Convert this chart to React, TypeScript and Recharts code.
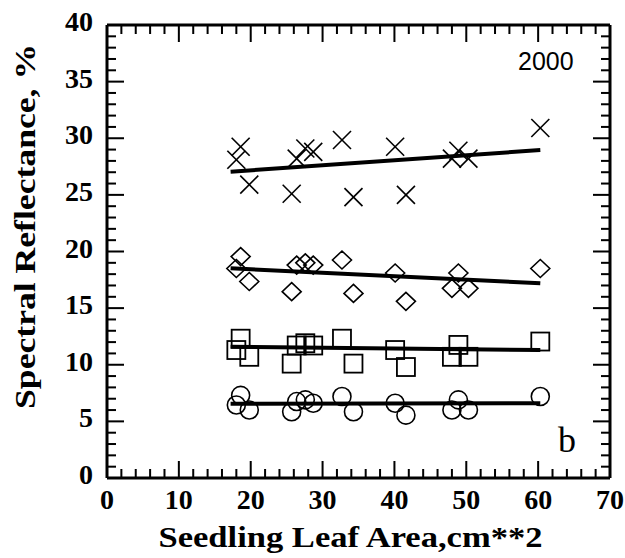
import React from 'react';
import { ScatterChart, Scatter, XAxis, YAxis, Label, ReferenceLine } from 'recharts';

// ---- data ----
const leafArea = [18.0, 18.6, 19.8, 25.7, 26.4, 27.6, 28.7, 32.7, 34.3, 40.1, 41.6, 48.0, 48.9, 50.3, 60.3];
const crossValues = [28.1, 29.25, 25.9, 25.1, 28.2, 29.1, 28.8, 29.85, 24.8, 29.25, 25.0, 28.2, 28.9, 28.2, 30.9];
const diamondValues = [18.5, 19.55, 17.35, 16.45, 18.8, 19.0, 18.8, 19.25, 16.3, 18.1, 15.6, 16.75, 18.1, 16.75, 18.5];
const squareValues = [11.3, 12.3, 10.7, 10.1, 11.7, 11.9, 11.7, 12.3, 10.1, 11.3, 9.8, 10.7, 11.75, 10.7, 12.05];
const circleValues = [6.45, 7.3, 6.0, 5.85, 6.75, 6.9, 6.6, 7.2, 5.85, 6.6, 5.55, 6.0, 6.9, 6.0, 7.2];

const fitLeafArea = [17.2, 60.3];
const crossFit = [27.05, 28.96];
const diamondFit = [18.52, 17.19];
const squareFit = [11.6, 11.3];
const circleFit = [6.55, 6.6];

const xMajorTicks = [0, 10, 20, 30, 40, 50, 60, 70];
const yMajorTicks = [0, 5, 10, 15, 20, 25, 30, 35, 40];
const xAllTicks = Array.from({ length: 36 }, (_, i) => i * 2);
const yAllTicks = Array.from({ length: 41 }, (_, i) => i);

const xTitle = 'Seedling Leaf Area,cm**2';
const yTitle = 'Spectral Reflectance, %';
const yearLabel = '2000';
const panelLabel = 'b';

const X_MIN = 0;
const X_MAX = 70;
const Y_MIN = 0;
const Y_MAX = 40;

// layout
const W = 625;
const H = 558;
const M_TOP = 25;
const M_RIGHT = 15;
const X_AXIS_H = 80;
const Y_AXIS_W = 107;
const PLOT_W = W - Y_AXIS_W - M_RIGHT;
const PLOT_H = H - M_TOP - X_AXIS_H;

const MAJOR = 17;
const MINOR = 9;

const toPoints = (xs: number[], ys: number[]) => xs.map((x, i) => ({ x, y: ys[i] }));

const crosses = toPoints(leafArea, crossValues);
const diamonds = toPoints(leafArea, diamondValues);
const squares = toPoints(leafArea, squareValues);
const circles = toPoints(leafArea, circleValues);

const crossLine = toPoints(fitLeafArea, crossFit);
const diamondLine = toPoints(fitLeafArea, diamondFit);
const squareLine = toPoints(fitLeafArea, squareFit);
const circleLine = toPoints(fitLeafArea, circleFit);

const SERIF = '"Liberation Serif", "DejaVu Serif", serif';
const SANS = '"Liberation Sans", Arial, sans-serif';

const CrossShape = (p: any) => {
  const { cx, cy } = p;
  const s = 9;
  return (
    <g stroke="#000" strokeWidth={1.6} fill="none">
      <line x1={cx - s} y1={cy - s} x2={cx + s} y2={cy + s} />
      <line x1={cx - s} y1={cy + s} x2={cx + s} y2={cy - s} />
    </g>
  );
};

const DiamondShape = (p: any) => {
  const { cx, cy } = p;
  const w = 9.5;
  const h = 9;
  return (
    <path
      d={`M${cx},${cy - h} L${cx + w},${cy} L${cx},${cy + h} L${cx - w},${cy} Z`}
      stroke="#000"
      strokeWidth={1.6}
      fill="none"
    />
  );
};

const SquareShape = (p: any) => {
  const { cx, cy } = p;
  const s = 9;
  return <rect x={cx - s} y={cy - s} width={2 * s} height={2 * s} stroke="#000" strokeWidth={1.8} fill="none" />;
};

const CircleShape = (p: any) => {
  const { cx, cy } = p;
  return <circle cx={cx} cy={cy} r={9} stroke="#000" strokeWidth={1.6} fill="none" />;
};

const NoShape = () => <g />;

// bottom axis tick: inward tick mark at bottom and mirrored one at top, plus label
const BottomTick = (p: any) => {
  const { x, y, payload } = p;
  const major = xMajorTicks.includes(payload.value);
  const len = major ? MAJOR : MINOR;
  const topY = y - PLOT_H;
  return (
    <g>
      <rect x={x - 1} y={y - len} width={2} height={len} fill="#000" />
      <rect x={x - 1} y={topY} width={2} height={len} fill="#000" />
      {major && (
        <text x={x} y={y + 31} textAnchor="middle" fontFamily={SERIF} fontWeight="bold" fontSize={28} fill="#000">
          {payload.value}
        </text>
      )}
    </g>
  );
};

// left axis tick: inward tick mark at left and mirrored one at right, plus label
const LeftTick = (p: any) => {
  const { x, y, payload } = p;
  const major = yMajorTicks.includes(payload.value);
  const len = major ? MAJOR : MINOR;
  const rightX = x + PLOT_W;
  return (
    <g>
      <rect x={x} y={y - 1} width={len} height={2} fill="#000" />
      <rect x={rightX - len} y={y - 1} width={len} height={2} fill="#000" />
      {major && (
        <text x={x - 14} y={y + 6} textAnchor="end" fontFamily={SERIF} fontWeight="bold" fontSize={28} fill="#000">
          {payload.value}
        </text>
      )}
    </g>
  );
};

const XTitle = (p: any) => {
  const vb = p.viewBox || { x: 107, y: 478, width: 503, height: 80 };
  const cx = vb.x + vb.width / 2 - 8;
  return (
    <text
      x={cx}
      y={vb.y + 69}
      textAnchor="middle"
      fontFamily={SERIF}
      fontWeight="bold"
      fontSize={30}
      textLength={384}
      lengthAdjust="spacingAndGlyphs"
      fill="#000"
    >
      {xTitle}
    </text>
  );
};

const YTitle = (p: any) => {
  const vb = p.viewBox || { x: 0, y: 25, width: 107, height: 453 };
  const cy = vb.y + vb.height / 2 - 25;
  const bx = 35;
  return (
    <text
      x={bx}
      y={cy}
      transform={`rotate(-90, ${bx}, ${cy})`}
      textAnchor="middle"
      fontFamily={SERIF}
      fontWeight="bold"
      fontSize={30}
      textLength={365}
      lengthAdjust="spacingAndGlyphs"
      fill="#000"
    >
      {yTitle}
    </text>
  );
};

const CornerTexts = (p: any) => {
  const vb = p.viewBox || { x: 107, y: 478, width: 503, height: 80 };
  const right = vb.x + vb.width;
  return (
    <g>
      <text x={right - 92} y={vb.y - 408} fontFamily={SANS} fontSize={25} fill="#000">
        {yearLabel}
      </text>
      <text x={right - 52} y={vb.y - 26} fontFamily={SERIF} fontSize={36} fill="#000">
        {panelLabel}
      </text>
    </g>
  );
};

export default function App() {
  return (
    <div style={{ position: 'absolute', left: 0, top: 0 }}>
      <ScatterChart width={W} height={H} margin={{ top: M_TOP, right: M_RIGHT, bottom: 0, left: 0 }}>
        <XAxis
          type="number"
          dataKey="x"
          domain={[X_MIN, X_MAX]}
          ticks={xAllTicks}
          interval={0}
          height={X_AXIS_H}
          tickSize={0}
          tickMargin={0}
          tickLine={false}
          stroke="#000"
          tick={BottomTick}
        >
          <Label content={XTitle} />
          <Label content={CornerTexts} />
        </XAxis>
        <YAxis
          type="number"
          dataKey="y"
          domain={[Y_MIN, Y_MAX]}
          ticks={yAllTicks}
          interval={0}
          width={Y_AXIS_W}
          tickSize={0}
          tickMargin={0}
          tickLine={false}
          stroke="#000"
          tick={LeftTick}
        >
          <Label content={YTitle} />
        </YAxis>

        <ReferenceLine y={Y_MIN} stroke="#000" strokeWidth={3} />
        <ReferenceLine y={Y_MAX} stroke="#000" strokeWidth={3} />
        <ReferenceLine x={X_MIN} stroke="#000" strokeWidth={3} />
        <ReferenceLine x={X_MAX} stroke="#000" strokeWidth={3} />

        <Scatter data={crosses} shape={CrossShape} isAnimationActive={false} />
        <Scatter data={diamonds} shape={DiamondShape} isAnimationActive={false} />
        <Scatter data={squares} shape={SquareShape} isAnimationActive={false} />
        <Scatter data={circles} shape={CircleShape} isAnimationActive={false} />

        <Scatter data={crossLine} line={{ stroke: '#000', strokeWidth: 4 }} shape={NoShape} isAnimationActive={false} />
        <Scatter data={diamondLine} line={{ stroke: '#000', strokeWidth: 4 }} shape={NoShape} isAnimationActive={false} />
        <Scatter data={squareLine} line={{ stroke: '#000', strokeWidth: 4 }} shape={NoShape} isAnimationActive={false} />
        <Scatter data={circleLine} line={{ stroke: '#000', strokeWidth: 4 }} shape={NoShape} isAnimationActive={false} />
      </ScatterChart>
    </div>
  );
}
